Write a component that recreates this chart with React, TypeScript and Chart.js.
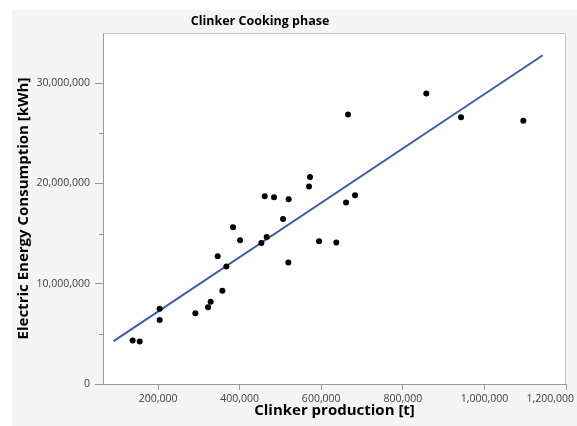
import React, { useEffect, useRef } from "react";
import { Chart, registerables } from "chart.js";

Chart.register(...registerables);

// Clinker production [t] per plant-period
const PRODUCTION_T = [
  137700, 154900, 203900, 203900, 291400, 322500, 328900, 346100, 357600, 367400,
  383800, 401000, 453200, 461300, 466200, 484300, 506400, 519400, 520100, 570100,
  572500, 594600, 637000, 660800, 665700, 682800, 857600, 942700, 1095300,
];

// Electric energy consumption [kWh], same order as PRODUCTION_T
const ENERGY_KWH = [
  4350000, 4250000, 7500000, 6370000, 7060000, 7660000, 8200000, 12740000, 9290000, 11710000,
  15620000, 14330000, 14070000, 18710000, 14670000, 18610000, 16460000, 12110000, 18410000, 19700000,
  20640000, 14230000, 14100000, 18110000, 26870000, 18810000, 28960000, 26610000, 26240000,
];

// Fitted trend line end points
const TREND_X = [91000, 1143000];
const TREND_Y = [4280000, 32780000];

const X_TICKS = [200000, 400000, 600000, 800000, 1000000, 1200000];
const Y_TICKS = [0, 10000000, 20000000, 30000000];
const Y_MINOR_TICKS = [5000000, 15000000, 25000000];

const TITLE = "Clinker Cooking phase";
const X_TITLE = "Clinker production [t]";
const Y_TITLE = "Electric Energy Consumption [kWh]";

const FONT = "'Open Sans', 'Noto Sans', 'DejaVu Sans', sans-serif";
const AXIS_COLOR = "#9a9a9a";
const FRAME_COLOR = "#c4c4c4";
const PANEL_BG = "#f5f5f5";
const TICK_COLOR = "#404040";
const TICK_FONT_SIZE = 10.5;

const fmt = (v: number) => Math.round(v).toLocaleString("en-US");

const framePlugin = {
  id: "frameAndTitle",
  beforeDraw(chart: any) {
    const { ctx, width, height, chartArea } = chart;
    ctx.save();
    ctx.fillStyle = "#ffffff";
    ctx.fillRect(0, 0, width, height);
    ctx.fillStyle = PANEL_BG;
    ctx.fillRect(12, 10, width - 12, height - 10);
    ctx.fillStyle = "#ffffff";
    ctx.fillRect(chartArea.left, chartArea.top, chartArea.right - chartArea.left, chartArea.bottom - chartArea.top);
    ctx.restore();
  },
  afterDraw(chart: any) {
    const { ctx, chartArea, width } = chart;
    const x = chart.scales.x;
    const y = chart.scales.y;
    ctx.save();
    // light frame along the top and right of the plot
    ctx.strokeStyle = FRAME_COLOR;
    ctx.lineWidth = 1;
    ctx.beginPath();
    ctx.moveTo(chartArea.left, chartArea.top + 0.5);
    ctx.lineTo(chartArea.right - 0.5, chartArea.top + 0.5);
    ctx.lineTo(chartArea.right - 0.5, chartArea.bottom);
    ctx.stroke();
    // short minor ticks on the y axis
    ctx.strokeStyle = AXIS_COLOR;
    ctx.beginPath();
    for (const v of Y_MINOR_TICKS) {
      const py = Math.round(y.getPixelForValue(v)) + 0.5;
      ctx.moveTo(chartArea.left - 4, py);
      ctx.lineTo(chartArea.left, py);
    }
    ctx.stroke();
    // x tick labels, kept inside the canvas at the right edge
    ctx.fillStyle = TICK_COLOR;
    ctx.font = `${TICK_FONT_SIZE}px ${FONT}`;
    ctx.textAlign = "center";
    ctx.textBaseline = "middle";
    for (const v of X_TICKS) {
      const label = fmt(v);
      const w = ctx.measureText(label).width;
      let px = x.getPixelForValue(v);
      if (px + w / 2 > width - 3) px = width - 3 - w / 2;
      ctx.fillText(label, px, chartArea.bottom + 15);
    }
    // chart title
    ctx.fillStyle = "#000000";
    ctx.font = `bold 12.5px ${FONT}`;
    ctx.fillText(TITLE, 260, 21);
    ctx.restore();
  },
};

export default function App() {
  const canvasRef = useRef<HTMLCanvasElement | null>(null);

  useEffect(() => {
    if (!canvasRef.current) return;
    Chart.defaults.font.family = FONT;

    const points = PRODUCTION_T.map((x, i) => ({ x, y: ENERGY_KWH[i] }));
    const trend = TREND_X.map((x, i) => ({ x, y: TREND_Y[i] }));

    const chart = new Chart(canvasRef.current, {
      type: "scatter",
      data: {
        datasets: [
          {
            label: "Fit",
            data: trend,
            showLine: true,
            borderColor: "#3f5eae",
            borderWidth: 2,
            pointRadius: 0,
            order: 2,
          },
          {
            label: "Observations",
            data: points,
            backgroundColor: "#000000",
            borderColor: "#000000",
            pointRadius: 3,
            borderWidth: 0,
            order: 1,
          },
        ],
      },
      options: {
        responsive: false,
        animation: false,
        layout: { padding: { left: 12, top: 33, right: 11, bottom: 0 } },
        plugins: {
          legend: { display: false },
          title: { display: false },
          tooltip: { enabled: false },
        },
        scales: {
          x: {
            type: "linear",
            min: 65000,
            max: 1200000,
            afterBuildTicks: (scale: any) => {
              scale.ticks = X_TICKS.map((value) => ({ value }));
            },
            afterFit: (scale: any) => {
              scale.height = 42;
              scale.paddingLeft = 0;
              scale.paddingRight = 0;
            },
            grid: {
              drawOnChartArea: false,
              drawTicks: true,
              tickLength: 6,
              color: AXIS_COLOR,
            },
            border: { display: true, color: AXIS_COLOR, width: 1 },
            ticks: {
              padding: 3,
              color: "rgba(0,0,0,0)",
              font: { size: TICK_FONT_SIZE },
              maxRotation: 0,
              callback: (v: any) => fmt(Number(v)),
            },
            title: {
              display: true,
              text: X_TITLE,
              color: "#000000",
              font: { size: 15, weight: "bold" },
              padding: { top: 0, bottom: 6 },
            },
          },
          y: {
            type: "linear",
            min: 0,
            max: 35000000,
            afterBuildTicks: (scale: any) => {
              scale.ticks = Y_TICKS.map((value) => ({ value }));
            },
            afterFit: (scale: any) => {
              scale.width = 91;
              scale.paddingTop = 0;
              scale.paddingBottom = 0;
            },
            grid: {
              drawOnChartArea: false,
              drawTicks: true,
              tickLength: 8,
              color: AXIS_COLOR,
            },
            border: { display: true, color: AXIS_COLOR, width: 1 },
            ticks: {
              padding: 5,
              color: TICK_COLOR,
              font: { size: TICK_FONT_SIZE },
              callback: (v: any) => fmt(Number(v)),
            },
            title: {
              display: true,
              text: Y_TITLE,
              color: "#000000",
              font: { size: 15, weight: "bold" },
              padding: { top: 3, bottom: 0 },
            },
          },
        },
      },
      plugins: [framePlugin],
    });

    return () => chart.destroy();
  }, []);

  return (
    <div style={{ position: "absolute", left: 0, top: 0, width: 577, height: 426 }}>
      <canvas ref={canvasRef} width={577} height={426} style={{ display: "block" }} />
    </div>
  );
}
